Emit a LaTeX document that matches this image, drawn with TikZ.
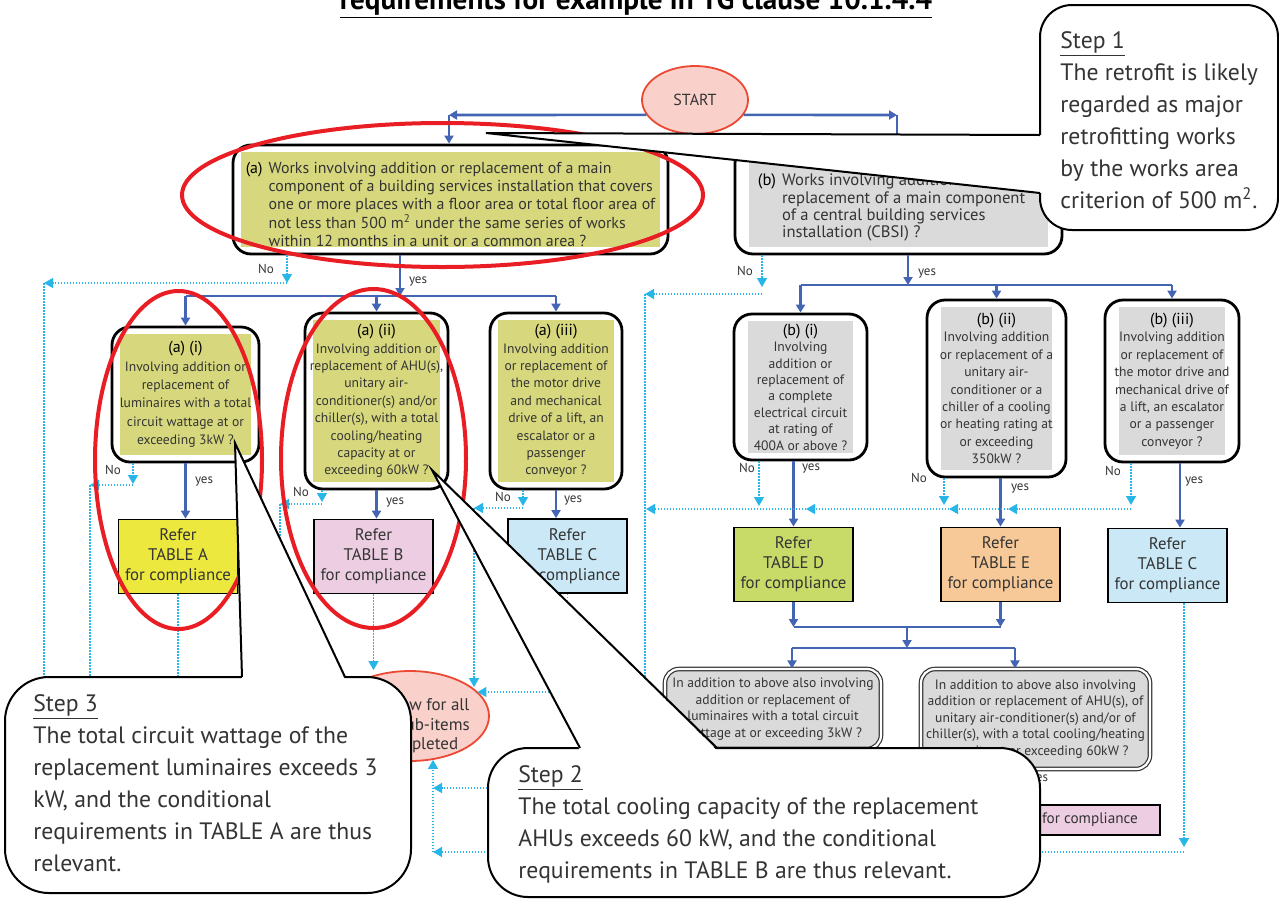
\documentclass[tikz,border=0pt]{standalone}
\usepackage{fontspec}
\setmainfont{PT Sans}
\usetikzlibrary{arrows.meta,shapes.geometric,calc}

\definecolor{flowblue}{RGB}{68,100,180}
\definecolor{nocyan}{RGB}{40,182,232}
\definecolor{khaki}{RGB}{215,216,125}
\definecolor{boxgray}{RGB}{218,218,218}
\definecolor{tabyellow}{RGB}{236,232,62}
\definecolor{tabpink}{RGB}{236,205,226}
\definecolor{tabblue}{RGB}{202,232,246}
\definecolor{tabgreen}{RGB}{200,218,104}
\definecolor{taborange}{RGB}{247,201,152}
\definecolor{markred}{RGB}{232,30,36}
\definecolor{endred}{RGB}{236,72,52}
\definecolor{endpink}{RGB}{249,208,202}
\definecolor{txt}{RGB}{52,52,52}

\newcommand{\fsz}[2]{\fontsize{#1}{#2}\selectfont}
\newcommand{\hd}[1]{{\fsz{8}{9}\color{black}#1}}

\tikzset{
  qbox/.style 2 args={draw=black, line width=1.4pt, rounded corners=9pt, fill=white,
    inner sep=0pt, align=center, text=txt,
    path picture={\fill[#1,sharp corners] ([xshift=#2,yshift=-3.5pt]path picture bounding box.north west)
      rectangle ([xshift=-#2,yshift=3.5pt]path picture bounding box.south east);}},
  subq/.style={font={\fsz{6.8}{8.7}}},
  tabbox/.style={draw=black, line width=0.9pt, fill=#1, inner sep=0pt, align=center,
    text=txt, font={\fsz{8.4}{10}}, minimum width=59.5pt, minimum height=37pt},
  addbox/.style={draw=black!80, line width=0.6pt, double=white, double distance=1.1pt,
    fill=boxgray, rounded corners=7pt, inner sep=0pt, align=center, text=txt,
    font={\fsz{6.8}{8.3}}},
  endnode/.style={ellipse, draw=endred, line width=0.9pt, fill=endpink, inner sep=0pt,
    align=center, text=txt},
  yesline/.style={draw=flowblue, line width=1.3pt},
  yesarrow/.style={yesline, -{Triangle[width=4.5pt,length=4pt]}},
  noline/.style={draw=nocyan, line width=0.75pt, dash pattern=on 0.75pt off 0.75pt},
  noarrow/.style={noline, -{Triangle[width=5pt,length=4.5pt]}},
  lbl/.style={font={\fsz{6.5}{7}}, text=txt, inner sep=0pt},
  redmark/.style={draw=markred, line width=2pt},
  callout/.style={draw=black, line width=1pt, fill=white},
  steptext/.style={anchor=base west, inner sep=0pt, text=txt, font={\fsz{11.85}{16}}}
}

\begin{document}
\begin{tikzpicture}[x=0.5pt,y=-0.5pt]
\useasboundingbox (0,0) rectangle (1279,900);

% title (cut at the top)
\node[anchor=base, font={\fsz{14.6}{16}\bfseries}] (title) at (636,9)
  {\underline{requirements for example in TG clause 10.1.4.4}};

% start and the two main questions
\node[endnode, minimum width=53pt, minimum height=34pt, font={\fsz{8}{9}}] (start) at (695,100) {\raisebox{-2.5pt}{START}};
\node[qbox={khaki}{4pt}, minimum width=217.5pt, minimum height=54.5pt, font={\fsz{7.95}{9}}] (qa) at (450.5,199.5)
  {\begin{tabular}{@{}l@{\hspace{3pt}}l@{}}\textcolor{black}{(a)}\rule{0pt}{13.3pt} & Works involving addition or replacement of a main\\
   & component of a building services installation that covers\\
   & one or more places with a floor area or total floor area of\\
   & not less than 500 m\textsuperscript{2} under the same series of works\\
   & within 12 months in a unit or a common area ?\end{tabular}};
\node[qbox={boxgray}{7pt}, minimum width=163.5pt, minimum height=54.5pt, font={\fsz{8.3}{8.7}}] (qb) at (898.5,199.5)
  {\begin{tabular}{@{}l@{\hspace{3pt}}l@{\hspace{7pt}}}\textcolor{black}{(b)}\rule{0pt}{15pt} & Works involving addition or\\
   & replacement of a main component\\
   & of a central building services\\
   & installation (CBSI) ?\end{tabular}};

% sub questions (a)
\node[qbox={khaki}{4pt}, subq, font={\fsz{6.8}{9.2}}, minimum width=73.5pt, minimum height=67.5pt] (qai) at (185.5,394.5)
  {\hd{(a) (i)}\\Involving addition or\\replacement of\\luminaires with a total\\circuit wattage at or\\exceeding 3kW ?};
\node[qbox={khaki}{4pt}, subq, minimum width=71.5pt, minimum height=88pt] (qaii) at (376.5,401)
  {\hd{(a) (ii)}\\Involving addition or\\replacement of AHU(s),\\unitary air-\\conditioner(s) and/or\\chiller(s), with a total\\cooling/heating\\capacity at or\\exceeding 60kW ?};
\node[qbox={khaki}{4pt}, subq, minimum width=66pt, minimum height=88pt] (qaiii) at (556,401)
  {\hd{(a) (iii)}\\Involving addition\\or replacement of\\the motor drive\\and mechanical\\drive of a lift, an\\escalator or a\\passenger\\conveyor ?};

% sub questions (b)
\node[qbox={boxgray}{7pt}, subq, font={\fsz{6.8}{8.2}}, minimum width=66.5pt, minimum height=73pt] (qbi) at (800.5,387)
  {\hd{(b) (i)}\\Involving\\addition or\\replacement of\\a complete\\electrical circuit\\at rating of\\400A or above ?};
\node[qbox={boxgray}{7pt}, subq, minimum width=69.5pt, minimum height=88.5pt] (qbii) at (996.5,388.5)
  {\hd{(b) (ii)}\\Involving addition\\or replacement of a\\unitary air-\\conditioner or a\\chiller of a cooling\\or heating rating at\\or exceeding\\350kW ?};
\node[qbox={boxgray}{7pt}, subq, minimum width=67pt, minimum height=81pt] (qbiii) at (1172,381)
  {\hd{(b) (iii)}\\Involving addition\\or replacement of\\the motor drive and\\mechanical drive of\\a lift, an escalator\\or a passenger\\conveyor ?};

% tables
\node[tabbox=tabyellow] (tabA) at (178,556.5) {Refer\\TABLE A\\for compliance};
\node[tabbox=tabpink] (tabB) at (373.5,556.5) {Refer\\TABLE B\\for compliance};
\node[tabbox=tabblue] (tabCl) at (567.5,556) {Refer\\TABLE C\\for compliance};
\node[tabbox=tabgreen] (tabD) at (793.5,564.5) {Refer\\TABLE D\\for compliance};
\node[tabbox=taborange] (tabE) at (1000.5,564.5) {Refer\\TABLE E\\for compliance};
\node[tabbox=tabblue] (tabCr) at (1167.5,565.5) {Refer\\TABLE C\\for compliance};

% further checks
\node[addbox, minimum width=108pt, minimum height=40pt] (addL) at (773,709)
  {In addition to above also involving\\addition or replacement of\\luminaires with a total circuit\\wattage at or exceeding 3kW ?};
\node[addbox, minimum width=114.5pt, minimum height=50pt] (addR) at (1035.5,719)
  {In addition to above also involving\\addition or replacement of AHU(s), of\\unitary air-conditioner(s) and/or of\\chiller(s), with a total cooling/heating\\capacity at or exceeding 60kW ?};
\node[draw=black, line width=0.9pt, fill=tabpink, inner sep=0pt, text=txt, font={\fsz{7.6}{8}},
  minimum width=118pt, minimum height=15pt] (tabBb) at (1042,820) {Refer TABLE B for compliance};
\node[endnode, minimum width=79pt, minimum height=45pt] (finish) at (410,716) {};
\node[font={\fsz{8.5}{9.8}}, align=center, text=txt, inner sep=0pt] (fintext) at (420,726)
  {Review for all\\the sub-items\\completed};

% yes connectors
\coordinate (ja) at (449,115);
\coordinate (jb) at (897,115);
\coordinate (ya) at (400,296);
\coordinate (yb) at (908,285);
\coordinate (jd) at (907,627);
\coordinate (je) at (907,648);
\coordinate (jl) at (792,648);
\coordinate (jr) at (1015,648);
\draw[yesarrow] (start.197.5) -- (ja);
\draw[yesarrow] (ja) -- (ja |- qa.north);
\draw[yesarrow] (start.-17.5) -- (jb);
\draw[yesarrow] (jb) -- (jb |- qb.north);
\draw[yesarrow] (ya |- qa.south) -- (ya);
\draw[yesline] (ya -| qai) -- (ya -| qaiii);
\foreach \q in {qai,qaii,qaiii}
  \draw[yesarrow] (ya -| \q) -- (\q.north);
\draw[yesarrow] (yb |- qb.south) -- (yb);
\draw[yesline] (yb -| qbi) -- (yb -| qbiii);
\foreach \q in {qbi,qbii,qbiii}
  \draw[yesarrow] (yb -| \q) -- (\q.north);
\draw[yesarrow] (qai.south) -- (qai.south |- tabA.north);
\draw[yesarrow] (qaii.south) -- (qaii.south |- tabB.north);
\draw[yesarrow] (qaiii.south) -- (qaiii.south |- tabCl.north);
\draw[yesarrow] (qbi.south -| tabD) -- (tabD.north);
\draw[yesarrow] (qbii.south -| tabE) -- (tabE.north);
\draw[yesarrow] ([xshift=4pt]qbiii.south) -- ([xshift=4pt]qbiii.south |- tabCr.north);
\draw[yesarrow] (tabD.south) -- (tabD.south |- jd);
\draw[yesarrow] (tabE.south) -- (tabE.south |- jd);
\draw[yesline] (tabD.south |- jd) -- (tabE.south |- jd);
\draw[yesarrow] (jd) -- (je);
\draw[yesline] (jl) -- (jr);
\draw[yesarrow] (jl) -- (jl |- addL.north);
\draw[yesarrow] (jr) -- (jr |- addR.north);
\draw[yesarrow] ([xshift=-7pt]addR.south) -- ([xshift=-7pt]addR.south |- tabBb.north);

% no connectors
\coordinate (na) at (287,283);   \coordinate (na2) at (44,283);
\coordinate (nai) at (133,484);  \coordinate (nai2) at (90,485);
\coordinate (naii) at (322,502); \coordinate (naii2) at (280,504);
\coordinate (naiii) at (523,506);\coordinate (naiii2) at (474,508);
\coordinate (nb) at (762,287);   \coordinate (nb2) at (645,294);
\coordinate (nbi) at (759,506);
\coordinate (nbii) at (944,505);
\coordinate (nbiii) at (1131,505);
\coordinate (nrow) at (1131,509);
\coordinate (nmid) at (645,692);
\coordinate (nlow) at (433,852);
\coordinate (ncr) at (1184,852);
\coordinate (nadd) at (700,788);
\draw[noarrow] (na |- qa.south) -- (na);
\draw[noarrow] (na) -- (na2);
\draw[noline] (na2) -- (44,700);
\draw[noarrow] (nai |- qai.south) -- (nai);
\draw[noarrow] (nai |- nai2) -- (nai2);
\draw[noline] (nai2) -- (90,700);
\draw[noarrow] (naii |- qaii.south) -- (naii);
\draw[noarrow] (naii |- naii2) -- (naii2);
\draw[noline] (naii2) -- (280,700);
\draw[noline] (tabA.south) -- (178,700);
\draw[noarrow] (naiii |- qaiii.south) -- (naiii);
\draw[noarrow] (naiii |- naiii2) -- (naiii2);
\draw[noarrow] (naiii2) -- (naiii2 |- finish.25);
\draw[noarrow] (tabB.south) -- (tabB.south |- finish.north);
\draw[noarrow] (nb |- qb.south) -- (nb);
\draw[noarrow] (nb |- nb2) -- (nb2);
\draw[noline] (nb2) -- (nmid);
\draw[noline] (tabCl.south) -- (tabCl.south |- nmid);
\draw[noarrow] (nmid) -- (nmid -| finish.20);
\draw[noarrow] (nbi |- qbi.south) -- (nbi);
\draw[noarrow] (nbii |- qbii.south) -- (nbii);
\draw[noarrow] (nbiii |- qbiii.south) -- (nbiii);
\draw[noarrow] (nrow) -- (1008,509);
\draw[noarrow] (1008,509) -- (949,509);
\draw[noarrow] (949,509) -- (806,509);
\draw[noarrow] (806,509) -- (646,509);
\draw[noarrow] (ncr |- tabCr.south) -- ($(ncr)+(0,-5)$);
\draw[noarrow] (ncr) -- (nlow);
\draw[noline] (nadd |- addL.south) -- (nadd);
\draw[noarrow] (nadd) -- (nadd -| nlow);
\draw[noarrow] (nlow) -- (nlow |- finish.-62);

% yes / no labels
\foreach \n/\p/\t in {la/{266,269}/No, lb/{745,271}/No, lai/{113,470}/No, laii/{301,492}/No,
    laiii/{503,497}/No, lbi/{747,468}/No, lbii/{919,478}/No, lbiii/{1113,471}/No,
    ya1/{418,281}/yes, yb1/{927,273}/yes, yai/{204,481}/yes, yaii/{395,502}/yes,
    yaiii/{573,500}/yes, ybi/{811,468}/yes, ybii/{1020,488}/yes, ybiii/{1194,481}/yes,
    yadd/{1039,779}/yes}
  \node[lbl] (\n) at (\p) {\t};

% red marks
\draw[redmark] (442.5,195) ellipse [x radius=130.25pt, y radius=36pt];
\draw[redmark] (178.5,460) ellipse [x radius=41.75pt, y radius=84.5pt];
\draw[redmark] (373.5,458.5) ellipse [x radius=46.25pt, y radius=84.75pt];

% callout step 1
\filldraw[callout, rounded corners=16pt] (1040,5) rectangle (1278,230);
\fill[white] (1042.5,135) -- (486,133) -- (1042.5,193) -- cycle;
\draw[callout, fill=none] (1040,135) -- (486,133) -- (1040,193);
\node[steptext] (s1) at (1060,48) {\begin{tabular}[t]{@{}l@{}}\underline{Step 1}\\The retrofit is likely\\
  regarded as major\\retrofitting works\\by the works area\\criterion of 500 m\textsuperscript{2}.\end{tabular}};

% callout step 3
\filldraw[callout, rounded corners=22pt] (5,677) rectangle (411,893);
\fill[white] (242,679.5) -- (235,443) -- (345,679.5) -- cycle;
\draw[callout, fill=none] (242,677) -- (235,443) -- (345,677);
\node[steptext] (s3) at (33,711) {\begin{tabular}[t]{@{}l@{}}\underline{Step 3}\\The total circuit wattage of the\\
  replacement luminaires exceeds 3\\kW, and the conditional\\requirements in TABLE A are thus\\relevant.\end{tabular}};

% callout step 2
\filldraw[callout, rounded corners=20pt] (488,748) rectangle (1040,897);
\fill[white] (580,750.5) -- (432,470) -- (717,750.5) -- cycle;
\draw[callout, fill=none] (580,748) -- (432,470) -- (717,748);
\node[steptext] (s2) at (518,782) {\begin{tabular}[t]{@{}l@{}}\underline{Step 2}\\The total cooling capacity of the replacement\\
  AHUs exceeds 60 kW, and the conditional\\requirements in TABLE B are thus relevant.\end{tabular}};
\end{tikzpicture}
\end{document}
